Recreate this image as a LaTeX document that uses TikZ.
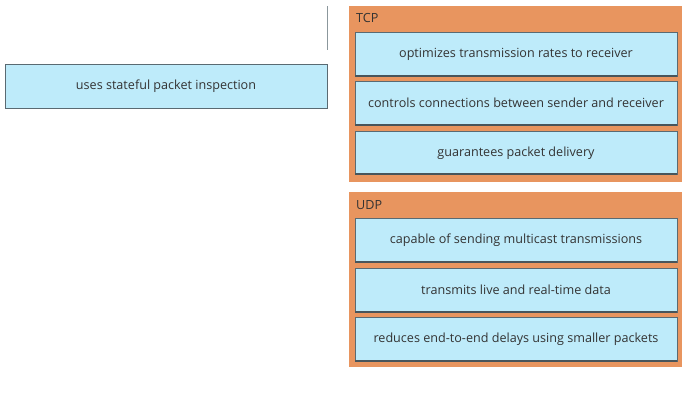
\documentclass[tikz,border=0pt]{standalone}
\usepackage{fontspec}
\setmainfont{Open Sans}
\definecolor{panelorange}{HTML}{E8955F}
\definecolor{itemblue}{HTML}{BEEBFA}
\definecolor{itemborder}{HTML}{5A6A72}
\definecolor{txtgray}{HTML}{333333}
\tikzset{
  panel/.style={fill=panelorange, draw=none},
  item/.style={fill=itemblue, draw=itemborder, line width=0.8pt},
  itemshadow/.style={draw=itemborder!80!black, line width=1.6pt},
  itemtext/.style={text=txtgray, font=\fontsize{12.6}{14}\selectfont, inner sep=0pt},
  paneltitle/.style={text=txtgray, font=\fontsize{12.6}{14}\selectfont, anchor=west, inner sep=0pt},
}
\begin{document}
\begin{tikzpicture}[x=1pt,y=-1pt]
\useasboundingbox (0,0) rectangle (687,400);
\fill[white] (0,0) rectangle (687,400);
% left side
\coordinate (vt) at (327,6);
\coordinate (vb) at (327,50);
\draw[itemborder!70, line width=0.8pt] (vt) -- (vb);
\draw[item] (5,64) rectangle (327,108);
\node[itemtext] (l1) at (166,86) {uses stateful packet inspection};
% TCP panel
\fill[panel] (349,6) rectangle (682,182);
\node[paneltitle] (tcp) at (356,18) {TCP};
\draw[item] (355,32) rectangle (677,76);
\draw[itemshadow] (355,76) -- (677,76);
\node[itemtext] (t1) at (516,54) {optimizes transmission rates to receiver};
\draw[item] (355,81) rectangle (677,125);
\draw[itemshadow] (355,125) -- (677,125);
\node[itemtext] (t2) at (516,103) {controls connections between sender and receiver};
\draw[item] (355,131) rectangle (677,174);
\draw[itemshadow] (355,174) -- (677,174);
\node[itemtext] (t3) at (516,153) {guarantees packet delivery};
% UDP panel
\fill[panel] (349,192) rectangle (682,367);
\node[paneltitle] (udp) at (356,205) {UDP};
\draw[item] (355,218) rectangle (677,262);
\draw[itemshadow] (355,262) -- (677,262);
\node[itemtext] (u1) at (516,240) {capable of sending multicast transmissions};
\draw[item] (355,268) rectangle (677,312);
\draw[itemshadow] (355,312) -- (677,312);
\node[itemtext] (u2) at (516,290) {transmits live and real-time data};
\draw[item] (355,317) rectangle (677,361);
\draw[itemshadow] (355,361) -- (677,361);
\node[itemtext] (u3) at (516,339) {reduces end-to-end delays using smaller packets};
\end{tikzpicture}
\end{document}
